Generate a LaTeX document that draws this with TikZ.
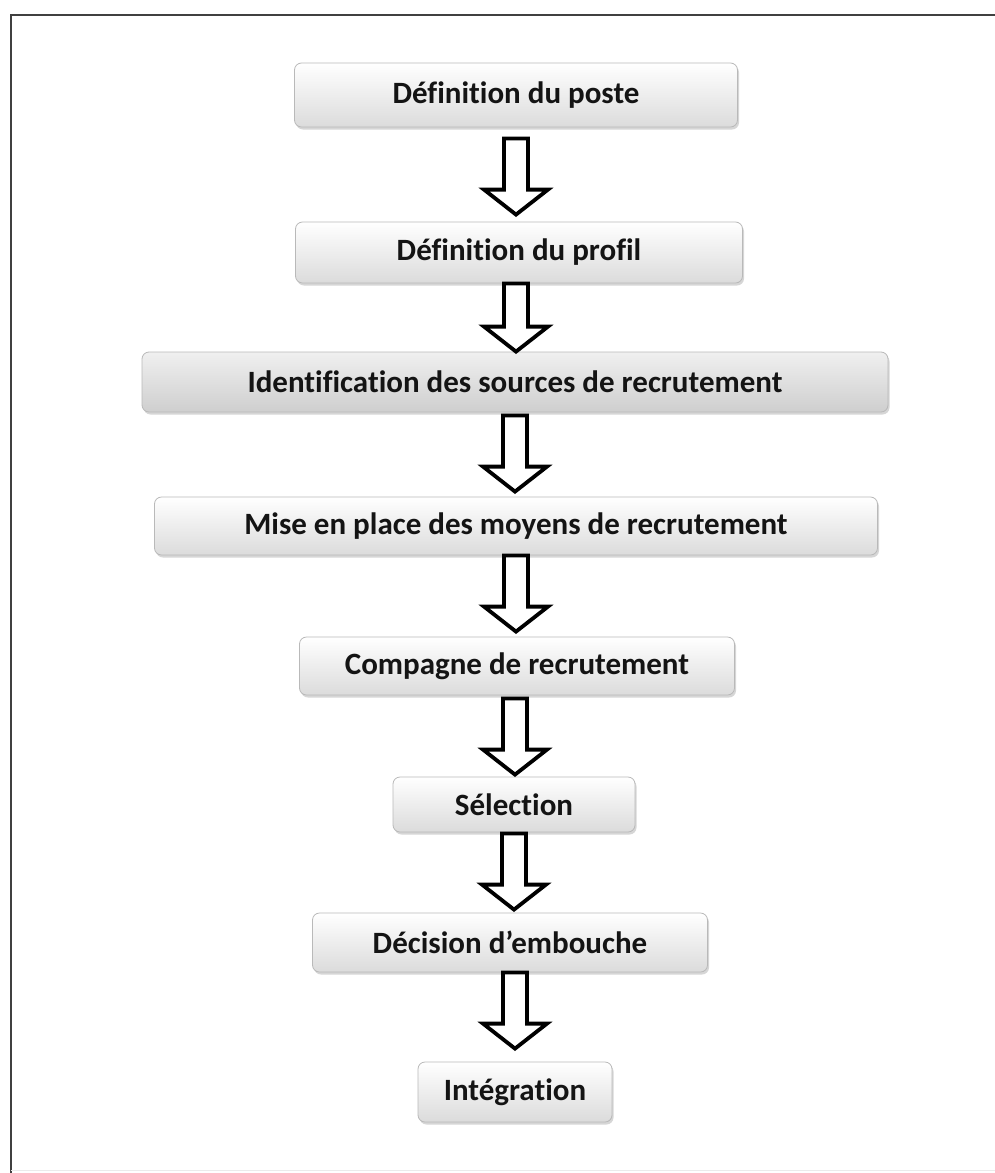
\documentclass[tikz,border=0pt]{standalone}
\usepackage{fontspec}
\setmainfont{Carlito}[Ligatures=NoCommon]
\usetikzlibrary{shadows,calc}
\begin{document}
\begin{tikzpicture}[x=1pt,y=-1pt,
  box/.style={rounded corners=7pt, draw=gray!55, line width=0.8pt,
    top color=white, bottom color=gray!28,
    drop shadow={shadow xshift=1.5pt, shadow yshift=-2.5pt, opacity=0.45, fill=gray!70},
    font=\bfseries\fontsize{31}{33}\selectfont, text=black!92, inner sep=0pt},
  darkbox/.style={box, top color=gray!12, bottom color=gray!38},
  blk/.style={draw=black, line width=3.8pt, fill=white, line join=miter,
    to path={let \p1=(\tikztostart), \p2=(\tikztotarget) in
      (\x1-12pt,\y1) -- (\x1-12pt,\y2+25pt) -- (\x1-32pt,\y2+25pt) -- (\x1,\y2)
      -- (\x1+32pt,\y2+25pt) -- (\x1+12pt,\y2+25pt) -- (\x1+12pt,\y1) -- cycle}}]
\fill[white] (0,0) rectangle (995,1173);
\useasboundingbox (0,0) rectangle (995,1173);
\draw[line width=1.8pt, black!75] (11,1173) -- (11,15) -- (995,15);
\draw[line width=0.8pt, black!8] (11,1170) -- (995,1170);

\node[box, minimum width=443pt, minimum height=64pt] (n1) at (516,95) {Définition du poste};
\node[box, minimum width=447pt, minimum height=61pt] (n2) at (519,252.5) {Définition du profil};
\node[darkbox, minimum width=746pt, minimum height=60pt] (n3) at (515,382) {Identification des sources de recrutement};
\node[box, minimum width=723pt, minimum height=58pt] (n4) at (516,526) {Mise en place des moyens de recrutement};
\node[box, minimum width=435pt, minimum height=58pt] (n5) at (517,666) {Compagne de recrutement};
\node[box, minimum width=242pt, minimum height=55pt] (n6) at (514,804.5) {Sélection};
\node[box, minimum width=395pt, minimum height=59pt] (n7) at (510,942.5) {Décision d’embouche};
\node[box, minimum width=194pt, minimum height=60pt] (n8) at (515,1092) {Intégration};

\draw[blk] ([yshift=-11pt]n1.south) to ([yshift=7pt]n2.north);
\draw[blk] ([xshift=-3pt]n2.south) to (n3.north);
\draw[blk] ([yshift=-3pt]n3.south) to ([yshift=5pt]n4.north);
\draw[blk] (n4.south) to ([yshift=5pt]n5.north);
\draw[blk] ([xshift=-2pt,yshift=-3pt]n5.south) to ([yshift=2pt]n6.north);
\draw[blk] ([yshift=-1pt]n6.south) to ([yshift=3pt]n7.north);
\draw[blk] ([xshift=5pt]n7.south) to ([yshift=13pt]n8.north);
\end{tikzpicture}
\end{document}
